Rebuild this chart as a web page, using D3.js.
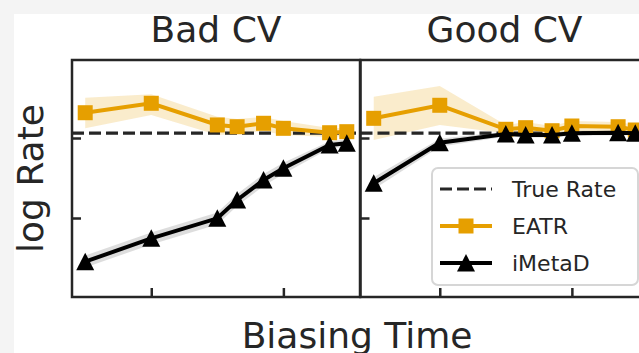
<!DOCTYPE html>
<html>
<head>
<meta charset="utf-8">
<script src="https://cdn.jsdelivr.net/npm/d3@7"></script>
<style>
  body { margin: 0; background: #f4f4f4; }
  svg { display: block; font-family: "DejaVu Sans", sans-serif; }
</style>
</head>
<body>
<svg id="chart" width="639" height="353"></svg>
<script>
// biasing time (arbitrary log units), same points in both panels
var biasTimes = [0.5, 1, 1.5, 1.65, 1.85, 2, 2.35, 2.48];
var xTicks = [1, 2];
var yTicks = [0, -1];
var trueRate = 0.06;

var panelTitles = ["Bad CV", "Good CV"];

// Bad CV
var badEatr = [0.316, 0.434, 0.163, 0.141, 0.184, 0.121, 0.066, 0.079];
var badEatrHi = [0.504, 0.546, 0.266, 0.238, 0.263, 0.213, 0.125, 0.125];
var badEatrLo = [0.121, 0.288, 0.038, 0.05, 0.088, 0.038, 0.013, 0.025];
var badMeta = [-1.546, -1.254, -1.004, -0.775, -0.525, -0.379, -0.088, -0.066];
var badMetaHi = [-1.47, -1.18, -0.93, -0.70, -0.45, -0.31, -0.04, -0.02];
var badMetaLo = [-1.62, -1.33, -1.08, -0.85, -0.60, -0.45, -0.13, -0.11];

// Good CV
var goodEatr = [0.246, 0.409, 0.109, 0.129, 0.091, 0.15, 0.141, 0.1];
var goodEatrHi = [0.516, 0.65, 0.163, 0.2, 0.15, 0.213, 0.2, 0.163];
var goodEatrLo = [-0.025, 0.163, 0.059, 0.075, 0.05, 0.088, 0.088, 0.05];
var goodMeta = [-0.566, -0.059, 0.05, 0.038, 0.038, 0.059, 0.066, 0.059];
var goodMetaHi = [-0.49, -0.01, 0.08, 0.07, 0.07, 0.09, 0.095, 0.09];
var goodMetaLo = [-0.64, -0.11, 0.02, 0.005, 0.005, 0.03, 0.035, 0.03];

var panels = [
  { title: panelTitles[0], eatr: badEatr, eHi: badEatrHi, eLo: badEatrLo, meta: badMeta, mHi: badMetaHi, mLo: badMetaLo },
  { title: panelTitles[1], eatr: goodEatr, eHi: goodEatrHi, eLo: goodEatrLo, meta: goodMeta, mHi: goodMetaHi, mLo: goodMetaLo }
];

var orange = "#E69F00";
var ink = "#262626";
var tri = "M0,-9L9,8.5L-9,8.5Z";

var svg = d3.select("#chart");
svg.append("rect").attr("x", 14).attr("y", 14).attr("width", 639).attr("height", 353).attr("fill", "#fff");

var margin = { top: 60, left: 72 };
var pw = 288, ph = 237;

var x = d3.scaleLinear().domain([0.4, 2.58]).range([0, pw]);
var y = d3.scaleLinear().domain([-1.9875, 0.975]).range([ph, 0]);

panels.forEach(function (p, i) {
  var g = svg.append("g")
    .attr("transform", "translate(" + (margin.left + i * (pw + 0.5)) + "," + margin.top + ")");

  g.append("clipPath").attr("id", "clip" + i)
    .append("rect").attr("width", pw).attr("height", ph);

  var plot = g.append("g").attr("clip-path", "url(#clip" + i + ")");

  var idx = d3.range(biasTimes.length);
  var band = function (hi, lo) {
    return d3.area().x(j => x(biasTimes[j])).y0(j => y(lo[j])).y1(j => y(hi[j]))(idx);
  };
  var line = function (vals) {
    return d3.line().x(j => x(biasTimes[j])).y(j => y(vals[j]))(idx);
  };

  plot.append("path").attr("d", band(p.eHi, p.eLo)).attr("fill", orange).attr("fill-opacity", 0.2);
  plot.append("path").attr("d", band(p.mHi, p.mLo)).attr("fill", "#555").attr("fill-opacity", 0.2);

  plot.append("line")
    .attr("x1", 0).attr("x2", pw).attr("y1", y(trueRate)).attr("y2", y(trueRate))
    .attr("stroke", ink).attr("stroke-width", 3.2).attr("stroke-dasharray", "12,5");

  plot.append("path").attr("d", line(p.eatr)).attr("fill", "none").attr("stroke", orange).attr("stroke-width", 4);
  plot.selectAll(".sq").data(idx).enter().append("rect")
    .attr("x", j => x(biasTimes[j]) - 7.5).attr("y", j => y(p.eatr[j]) - 7.5)
    .attr("width", 15).attr("height", 15).attr("fill", orange);

  plot.append("path").attr("d", line(p.meta)).attr("fill", "none").attr("stroke", "#000").attr("stroke-width", 4);
  plot.selectAll(".tri").data(idx).enter().append("path")
    .attr("transform", j => "translate(" + x(biasTimes[j]) + "," + y(p.meta[j]) + ")")
    .attr("d", tri).attr("fill", "#000");

  // inward ticks, no labels
  g.append("g").call(d3.axisBottom(x).tickValues(xTicks).tickSize(-9).tickFormat(""))
    .attr("transform", "translate(0," + ph + ")")
    .call(a => a.select(".domain").remove())
    .selectAll("line").attr("stroke", ink).attr("stroke-width", 2.5);
  g.append("g").call(d3.axisLeft(y).tickValues(yTicks).tickSize(-9).tickFormat(""))
    .call(a => a.select(".domain").remove())
    .selectAll("line").attr("stroke", ink).attr("stroke-width", 2.5);

  g.append("rect").attr("width", pw).attr("height", ph)
    .attr("fill", "none").attr("stroke", ink).attr("stroke-width", 2.5);

  g.append("text").attr("x", pw / 2).attr("y", -18.5)
    .attr("text-anchor", "middle").attr("font-size", 36).attr("fill", ink)
    .text(p.title);
});

svg.append("text")
  .attr("transform", "translate(43,178.5) rotate(-90)")
  .attr("text-anchor", "middle").attr("font-size", 36).attr("fill", ink)
  .text("log Rate");

svg.append("text").attr("x", 357).attr("y", 348)
  .attr("text-anchor", "middle").attr("font-size", 36).attr("fill", ink)
  .text("Biasing Time");

// legend
var legendItems = ["True Rate", "EATR", "iMetaD"];
var lg = svg.append("g").attr("transform", "translate(432,168)");
lg.append("rect").attr("width", 206).attr("height", 117).attr("rx", 6)
  .attr("fill", "#fff").attr("fill-opacity", 0.8).attr("stroke", "#d6d6d6").attr("stroke-width", 2);

legendItems.forEach(function (name, k) {
  var cy = 21 + k * 37;
  var row = lg.append("g").attr("transform", "translate(0," + cy + ")");
  var color = k === 1 ? orange : (k === 0 ? ink : "#000");
  row.append("line").attr("x1", 8).attr("x2", 60).attr("y1", 0).attr("y2", 0)
    .attr("stroke", color).attr("stroke-width", k === 0 ? 3.2 : 4)
    .attr("stroke-dasharray", k === 0 ? "12,5" : null);
  if (k === 1) {
    row.append("rect").attr("x", 26.5).attr("y", -7.5).attr("width", 15).attr("height", 15).attr("fill", orange);
  }
  if (k === 2) {
    row.append("path").attr("transform", "translate(34,0)").attr("d", tri).attr("fill", "#000");
  }
  row.append("text").attr("x", 80).attr("y", 8).attr("font-size", 22).attr("fill", ink).text(name);
});
</script>
</body>
</html>
